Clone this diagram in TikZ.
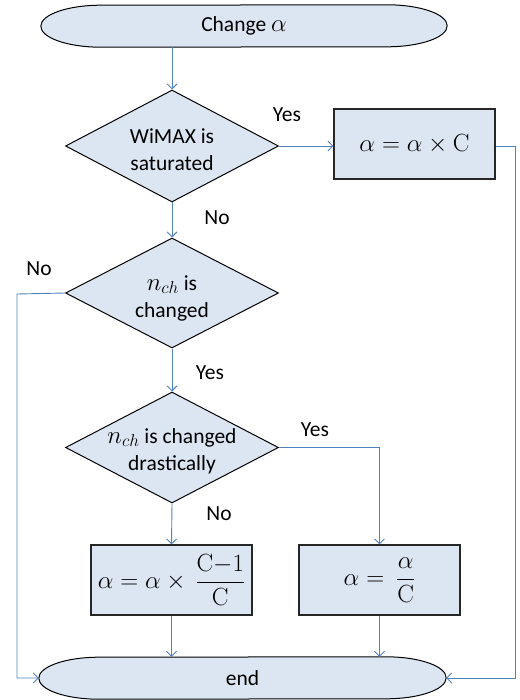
\documentclass[tikz,border=0pt]{standalone}
\usepackage{amsmath}
\usepackage[no-math]{fontspec}
\setmainfont{Carlito}
\usetikzlibrary{shapes.geometric,arrows.meta,backgrounds,calc}
\definecolor{fillc}{HTML}{DCE6F2}
\definecolor{linec}{HTML}{4F81BD}
\newcommand\mth[1]{{\fontsize{23}{27}\selectfont$#1$}}
\tikzset{
  base/.style={font=\fontsize{21.5}{27}\selectfont},
  term/.style={base,rectangle,inner sep=0pt,minimum width=406pt,minimum height=42pt},
  termshape/.style={fill=fillc,draw=black,line width=1pt},
  dec/.style={diamond,draw=black,fill=fillc,line width=1pt,inner sep=0pt,minimum width=213pt,minimum height=112pt},
  dectext/.style={base,align=center,inner sep=0pt},
  proc/.style={base,rectangle,draw=black!85,fill=fillc,line width=1.1pt,minimum width=161pt,minimum height=70pt,inner sep=0pt},
  lbl/.style={base,inner sep=0pt},
  conn/.style={draw=linec,line width=0.9pt,-{Straight Barb[length=5pt,width=10pt]}}
}
\newcommand\drawterm[1]{%
  \begin{scope}[on background layer]
  \path[termshape] ($(#1.north east)+(-60,0)$) arc[start angle=-90,end angle=90,x radius=60,y radius=21]
    -- ($(#1.south west)+(60,0)$) arc[start angle=90,end angle=270,x radius=60,y radius=21] -- cycle;
  \end{scope}}
\begin{document}
\begin{tikzpicture}[x=1pt,y=-1pt]
\useasboundingbox (0,0) rectangle (519,700);
% terminators
\node[term] (t1) at (244,26) {Change \mth{\alpha}};
\drawterm{t1}
\node[term,minimum width=407pt] (e) at (242.5,678) {end};
\drawterm{e}
% decisions
\node[dec] (d1) at (172,146) {};
\node[dectext] (d1t) at (172,150) {WiMAX is\\saturated};
\node[dec,minimum height=110pt] (d2) at (172,293) {};
\node[dectext] (d2t) at (172,298) {\mth{n_{ch}} is\\changed};
\node[dec,minimum height=111pt] (d3) at (172,447.5) {};
\node[dectext] (d3t) at (172,451) {\mth{n_{ch}} is changed\\drastically};
% process boxes
\node[proc] (b1) at (414.5,144) {\mth{\alpha = \alpha \times \mathrm{C}}};
\node[proc] (b2) at (171.5,580) {\mth{\alpha = \alpha \times \, \dfrac{\mathrm{C}{-}1}{\mathrm{C}}}};
\node[proc] (b3) at (379.5,580) {\mth{\alpha =\ \dfrac{\alpha}{\mathrm{C}}}};
% labels
\node[lbl] (y1) at (287,115) {Yes};
\node[lbl] (n1) at (217,218) {No};
\node[lbl] (n2) at (39,269) {No};
\node[lbl] (y2) at (210,373) {Yes};
\node[lbl] (y3) at (315,430) {Yes};
\node[lbl] (n3) at (219,514) {No};
% corner coordinates
\coordinate (rc) at (515,146);
\coordinate (lc) at (17,294);
% connectors
\draw[conn] (d1.north |- t1.south) -- (d1.north);
\draw[conn] (d1.east) -- (d1.east -| b1.west);
\draw[conn] (d1.south) -- (d2.north);
\draw[conn] (d2.south) -- (d3.north);
\draw[conn] (d3.south) -- (b2.north);
\draw[conn] (d3.east) -| (b3.north);
\draw[conn] (b2.south) -- (b2.south |- e.north);
\draw[conn] (b3.south) -- (b3.south |- e.north);
\draw[conn] (b1.east |- rc) -- (rc) |- (e.east);
\draw[conn] (d2.west) -- (lc) |- (e.west);
\end{tikzpicture}
\end{document}
